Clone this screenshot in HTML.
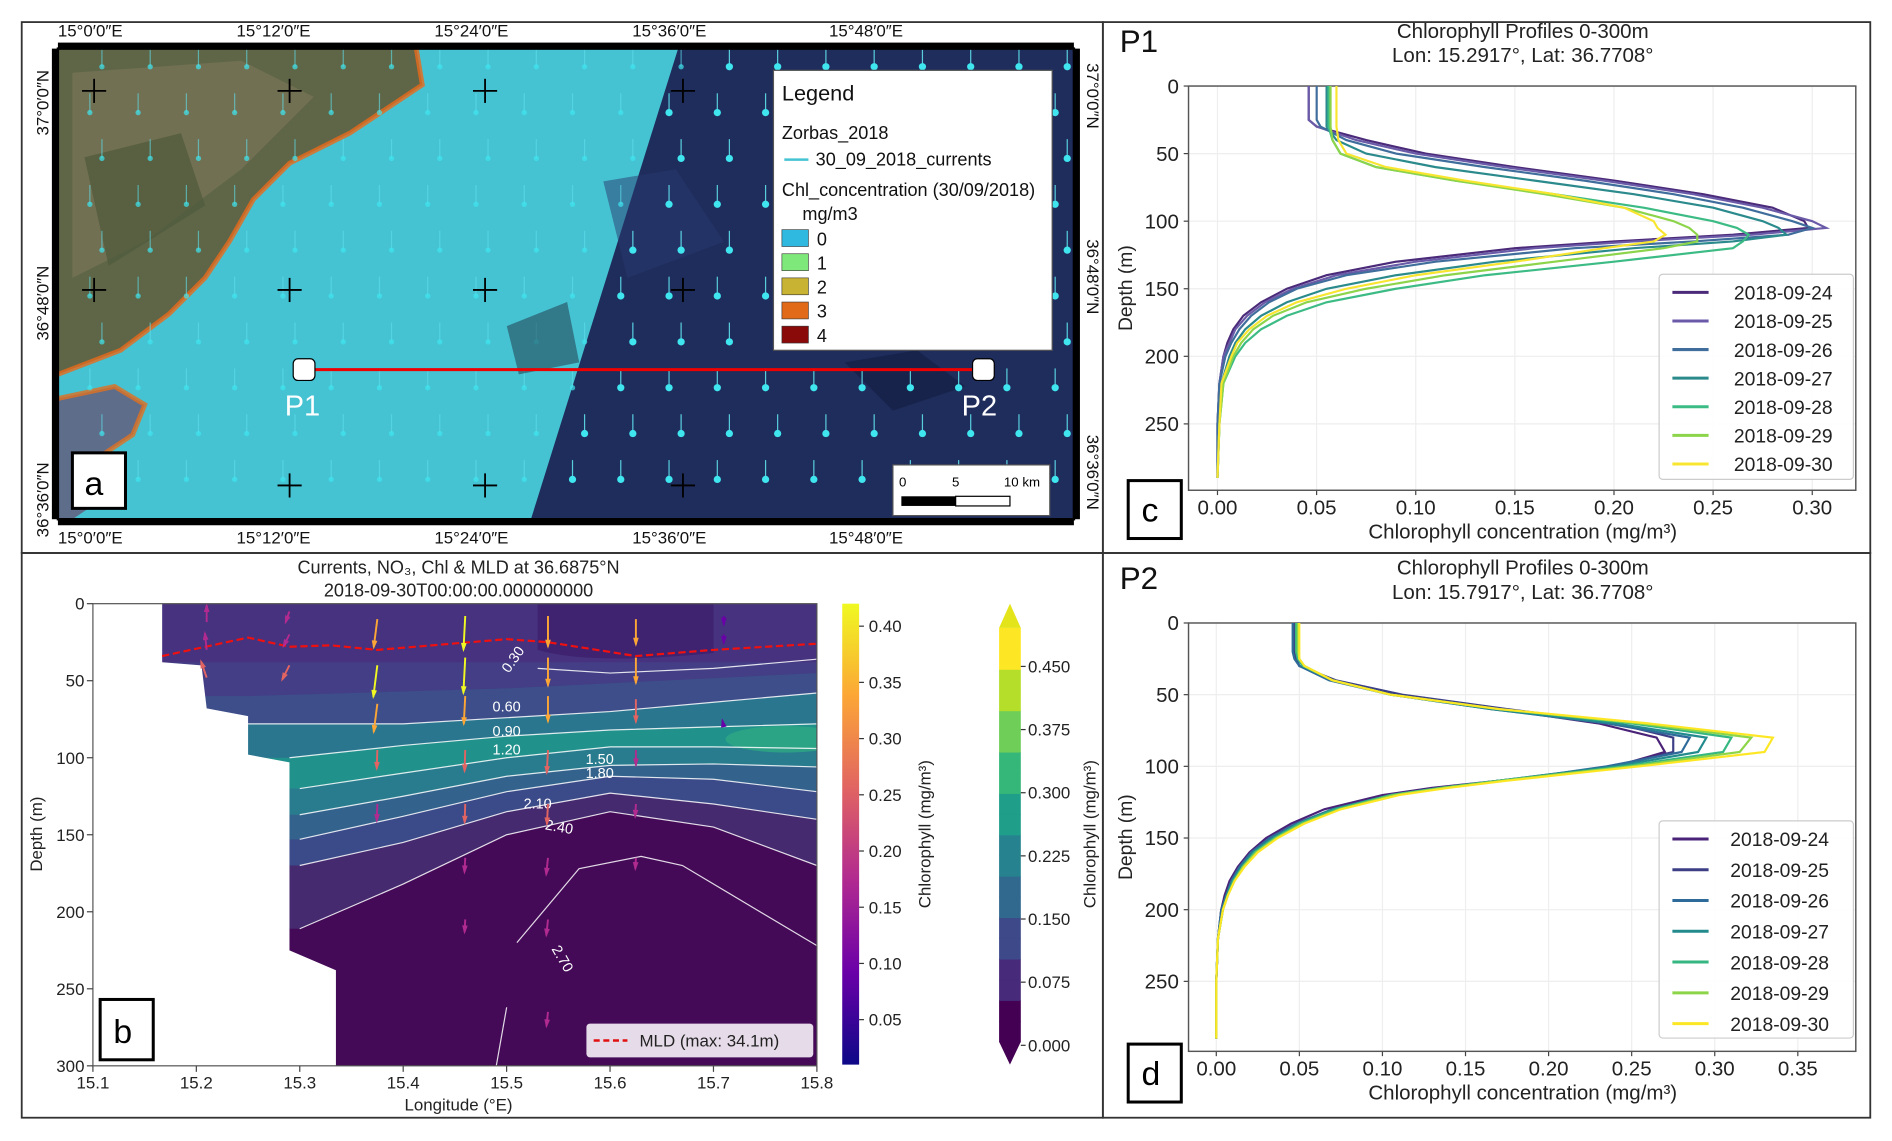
<!DOCTYPE html>
<html><head><meta charset="utf-8"><style>
html,body{margin:0;padding:0;background:#fff;}
svg{display:block;font-family:"Liberation Sans",sans-serif;}
</style></head><body>
<svg id="root" width="1892" height="1141" viewBox="0 0 1568 945" xmlns="http://www.w3.org/2000/svg">
<rect x="0" y="0" width="1568" height="945" fill="#fff"/>
<rect x="18" y="18" width="896" height="440" fill="none" stroke="#333" stroke-width="1.5"/>
<rect x="18" y="458" width="896" height="468" fill="none" stroke="#333" stroke-width="1.5"/>
<rect x="914" y="18" width="636" height="440" fill="none" stroke="#333" stroke-width="1.5"/>
<rect x="914" y="458" width="636" height="468" fill="none" stroke="#333" stroke-width="1.5"/>

<g>
<clipPath id="mapclip"><rect x="48" y="40" width="842" height="390"/></clipPath>
<clipPath id="bclip"><rect x="77" y="500" width="600" height="383"/></clipPath>
<g clip-path="url(#mapclip)">
<rect x="48" y="40" width="842" height="390" fill="#45c3d3"/>
<polygon points="562,40 890,40 890,430 440,430" fill="#1f2d5c"/>
<polygon points="700,300 760,290 800,320 740,340" fill="#131d40" opacity="0.6"/>
<polygon points="500,150 560,140 600,200 520,230" fill="#2a3a70" opacity="0.5"/>
<polygon points="48,40 345,40 350,70 320,90 290,110 240,135 210,165 190,200 170,230 140,260 100,290 48,310" fill="#5f6648"/>
<polygon points="60,60 200,50 260,80 200,140 120,200 60,230" fill="#7a7558" opacity="0.7"/>
<polygon points="70,130 150,110 170,170 90,220" fill="#4e5a3c" opacity="0.7"/>
<polyline points="345,40 350,70 320,90 290,110 240,135 210,165 190,200 170,230 140,260 100,290 48,310" fill="none" stroke="#e86a1a" stroke-width="4" opacity="0.8"/>
<polygon points="48,330 95,320 120,335 110,360 80,380 90,410 60,430 48,430" fill="#5e6d8a"/>
<polyline points="48,330 95,320 120,335 110,360 80,380" fill="none" stroke="#e07020" stroke-width="4" opacity="0.8"/>
<g id="vectors"></g>
<polygon points="420,270 470,250 480,300 430,310" fill="#203040" opacity="0.5"/>
</g>
<rect x="48" y="40" width="842" height="390" fill="none" stroke="#000" stroke-width="2"/>
<rect x="48" y="35" width="842" height="5" fill="#000"/><rect x="48" y="430" width="842" height="5" fill="#000"/>
<rect x="43" y="40" width="5" height="390" fill="#000"/><rect x="890" y="40" width="5" height="390" fill="#000"/>
<g id="crosses" stroke="#000" stroke-width="1.5"></g>
<g font-size="14" fill="#111">
<text x="48" y="30">15°0′0″E</text><text x="196" y="30">15°12′0″E</text><text x="360" y="30">15°24′0″E</text><text x="524" y="30">15°36′0″E</text><text x="687" y="30">15°48′0″E</text>
<text x="48" y="450">15°0′0″E</text><text x="196" y="450">15°12′0″E</text><text x="360" y="450">15°24′0″E</text><text x="524" y="450">15°36′0″E</text><text x="687" y="450">15°48′0″E</text>
<text transform="translate(40,112) rotate(-90)">37°0′0″N</text><text transform="translate(40,282) rotate(-90)">36°48′0″N</text><text transform="translate(40,445) rotate(-90)">36°36′0″N</text>
<text transform="translate(901,52) rotate(90)">37°0′0″N</text><text transform="translate(901,198) rotate(90)">36°48′0″N</text><text transform="translate(901,360) rotate(90)">36°36′0″N</text>
</g>
<line x1="252" y1="306" x2="815" y2="306" stroke="#e00" stroke-width="2.5"/>
<rect x="243" y="297" width="18" height="18" rx="4" fill="#fff" stroke="#000"/>
<rect x="806" y="297" width="18" height="18" rx="4" fill="#fff" stroke="#000"/>
<text x="236" y="344" font-size="24" fill="#fff">P1</text><text x="797" y="344" font-size="24" fill="#fff">P2</text>
<g>
<rect x="641" y="58" width="231" height="232" fill="#fff" stroke="#555"/>
<g font-size="15" fill="#111">
<text x="648" y="83" font-size="18">Legend</text>
<text x="648" y="115">Zorbas_2018</text>
<line x1="650" y1="132" x2="670" y2="132" stroke="#45c3d3" stroke-width="2"/><text x="676" y="137">30_09_2018_currents</text>
<text x="648" y="162">Chl_concentration (30/09/2018)</text>
<text x="665" y="182">mg/m3</text>
<rect x="648" y="190" width="22" height="14" fill="#2fb8e0" stroke="#333" stroke-width=".5"/><text x="677" y="203">0</text>
<rect x="648" y="210" width="22" height="14" fill="#7fe87a" stroke="#333" stroke-width=".5"/><text x="677" y="223">1</text>
<rect x="648" y="230" width="22" height="14" fill="#c8b432" stroke="#333" stroke-width=".5"/><text x="677" y="243">2</text>
<rect x="648" y="250" width="22" height="14" fill="#e06a18" stroke="#333" stroke-width=".5"/><text x="677" y="263">3</text>
<rect x="648" y="270" width="22" height="14" fill="#8a0a0a" stroke="#333" stroke-width=".5"/><text x="677" y="283">4</text>
</g></g>
<g>
<rect x="740" y="385" width="130" height="42" fill="#fff" stroke="#555"/>
<text x="745" y="403" font-size="11">0</text><text x="789" y="403" font-size="11">5</text><text x="832" y="403" font-size="11">10 km</text>
<rect x="747" y="411" width="45" height="8" fill="#000"/><rect x="792" y="411" width="45" height="8" fill="#fff" stroke="#000"/>
</g>
<rect x="60" y="375" width="44" height="46" fill="#fff" stroke="#000" stroke-width="2.5"/>
<text x="70" y="410" font-size="28">a</text>
</g>

<g id="pb"></g>
<g id="pc"></g>
<g id="pd"></g>
</svg>
<script>
const NS='http://www.w3.org/2000/svg';
function el(tag,attrs,parent,text){const e=document.createElementNS(NS,tag);for(const k in attrs)e.setAttribute(k,attrs[k]);if(text!==undefined)e.textContent=text;parent.appendChild(e);return e;}

const depths=[0,10,20,25,30,40,50,60,70,80,90,100,105,110,115,120,130,140,150,160,170,180,190,200,220,250,290];
const dates=['2018-09-24','2018-09-25','2018-09-26','2018-09-27','2018-09-28','2018-09-29','2018-09-30'];
const p1Colors=['#4b2a79','#6a5aa8','#3f6d9c','#2b8a8c','#3cbb85','#8cd44a','#f8e530'];
const p2Colors=['#4a2378','#3d3f86','#2f6b9a','#238a8d','#36b781','#8dd548','#fde725'];
const p1_24=[.046,.046,.046,.046,.05,.075,.105,.15,.20,.245,.28,.296,.298,.26,.20,.15,.09,.055,.035,.022,.013,.008,.005,.003,.001,0,0];
const p1_25=[.046,.046,.046,.046,.05,.07,.10,.145,.195,.24,.275,.30,.307,.27,.21,.16,.10,.06,.038,.024,.015,.009,.006,.003,.001,0,0];
const p1_26=[.05,.05,.05,.05,.052,.065,.09,.135,.185,.23,.265,.29,.30,.288,.24,.18,.11,.065,.04,.026,.017,.011,.007,.004,.001,0,0];
const p1_27=[.055,.055,.055,.055,.055,.06,.075,.11,.16,.21,.25,.275,.283,.287,.26,.21,.14,.09,.055,.035,.022,.014,.009,.006,.002,.001,0];
const p1_28=[.056,.056,.056,.056,.056,.058,.062,.08,.12,.17,.215,.25,.262,.268,.265,.26,.2,.135,.09,.055,.035,.022,.014,.009,.003,.001,0];
const p1_29=[.057,.057,.057,.057,.057,.058,.062,.08,.12,.165,.205,.23,.238,.242,.242,.225,.17,.115,.075,.045,.028,.018,.012,.008,.003,.001,0];
const p1_30=[.06,.06,.06,.06,.06,.061,.065,.085,.125,.17,.205,.22,.222,.226,.22,.195,.15,.1,.065,.04,.025,.016,.01,.007,.002,.001,0];
const p2_24=[.047,.047,.047,.048,.05,.07,.11,.17,.23,.265,.27,.24,.21,.17,.13,.10,.065,.045,.03,.02,.013,.008,.005,.003,.001,0,0];
const p2_25=[.047,.047,.047,.048,.05,.072,.112,.175,.24,.275,.275,.24,.21,.17,.135,.105,.07,.048,.032,.021,.014,.009,.006,.003,.001,0,0];
const p2_26=[.046,.046,.046,.047,.05,.068,.105,.165,.235,.285,.28,.235,.205,.17,.135,.105,.07,.048,.032,.021,.014,.009,.006,.003,.001,0,0];
const p2_27=[.048,.048,.048,.049,.052,.07,.105,.165,.24,.295,.29,.24,.205,.17,.135,.105,.07,.05,.034,.022,.015,.01,.006,.004,.001,0,0];
const p2_28=[.048,.048,.048,.049,.052,.07,.105,.17,.25,.31,.305,.245,.21,.17,.135,.105,.072,.05,.035,.023,.016,.01,.007,.004,.001,0,0];
const p2_29=[.049,.049,.049,.05,.053,.07,.105,.17,.255,.322,.315,.25,.21,.172,.137,.107,.074,.052,.036,.024,.016,.011,.007,.004,.001,0,0];
const p2_30=[.05,.05,.05,.05,.053,.07,.105,.17,.26,.335,.33,.255,.215,.175,.14,.11,.075,.053,.037,.025,.017,.011,.007,.004,.001,0,0];
const p1Series=[p1_24,p1_25,p1_26,p1_27,p1_28,p1_29,p1_30];
const p2Series=[p2_24,p2_25,p2_26,p2_27,p2_28,p2_29,p2_30];
const p1XTicks=[0,0.05,0.10,0.15,0.20,0.25,0.30];
const p2XTicks=[0,0.05,0.10,0.15,0.20,0.25,0.30,0.35];
const yTicks=[0,50,100,150,200,250];

function profile(g,o){
  const L=985,R=1538,T=o.top,B=o.bottom;
  const sx=v=>o.x0+v*o.kx, sy=d=>T+d*o.ky;
  el('text',{x:1262,y:T-40,'font-size':17,'text-anchor':'middle',fill:'#222'},g,'Chlorophyll Profiles 0-300m');
  el('text',{x:1262,y:T-20,'font-size':17,'text-anchor':'middle',fill:'#222'},g,o.sub);
  el('text',{x:928,y:T-28,'font-size':26,fill:'#111'},g,o.name);
  for(const t of o.xt){const x=sx(t);
    const gl=el('line',{x1:x,y1:T,x2:x,y2:B,stroke:'#eee'},g);
    el('line',{x1:x,y1:B,x2:x,y2:B+4,stroke:'#444'},g);
    const tl=el('text',{x:x,y:B+20,'font-size':17,'text-anchor':'middle',fill:'#222'},g,t.toFixed(2));}
  for(const t of yTicks){const y=sy(t);
    el('line',{x1:L,y1:y,x2:R,y2:y,stroke:'#eee'},g);
    el('line',{x1:L-4,y1:y,x2:L,y2:y,stroke:'#444'},g);
    const tl=el('text',{x:L-8,y:y+6,'font-size':17,'text-anchor':'end',fill:'#222'},g,t);}
  el('rect',{x:L,y:T,width:R-L,height:B-T,fill:'none',stroke:'#555','stroke-width':1.2},g);
  const yl=el('text',{transform:`translate(938,${(T+B)/2}) rotate(-90)`,'font-size':16,'text-anchor':'middle',fill:'#222'},g,'Depth (m)');
  const xl=el('text',{x:1262,y:B+40,'font-size':17,'text-anchor':'middle',fill:'#222'},g,'Chlorophyll concentration (mg/m³)');
  o.series.forEach((s,i)=>{
    const pts=s.map((v,j)=>sx(v).toFixed(1)+','+sy(depths[j]).toFixed(1)).join(' ');
    const pl=el('polyline',{points:pts,fill:'none',stroke:o.colors[i],'stroke-width':1.8},g);
    
    
  });
  const lg=el('g',{},g);
  el('rect',{x:1375,y:o.ly,width:161,height:o.lh,fill:'#fff','fill-opacity':0.9,stroke:'#ccc',rx:3},lg);
  dates.forEach((d,i)=>{const y=o.ly+15+i*o.lstep;
    el('line',{x1:1386,y1:y,x2:1416,y2:y,stroke:o.colors[i],'stroke-width':2.5},lg);
    const t=el('text',{x:o.lx,y:y+6,'font-size':16,fill:'#222'},lg,d);});
  el('rect',{x:935,y:o.boxY,width:44,height:48,fill:'#fff',stroke:'#000','stroke-width':2.5},g);
  el('text',{x:946,y:o.boxY+34,'font-size':28},g,o.letter);
}
profile(document.getElementById('pc'),{top:71,bottom:406,x0:1009,kx:1643,ky:1.12,xt:p1XTicks,series:p1Series,colors:p1Colors,sub:'Lon: 15.2917°, Lat: 36.7708°',name:'P1',ly:227,lh:170,lstep:23.7,lx:1437,boxY:398,letter:'c'});
profile(document.getElementById('pd'),{top:516,bottom:871,x0:1008,kx:1377,ky:1.188,xt:p2XTicks,series:p2Series,colors:p2Colors,sub:'Lon: 15.7917°, Lat: 36.7708°',name:'P2',ly:680,lh:180,lstep:25.5,lx:1434,boxY:865,letter:'d'});

const lonTicks=[15.1,15.2,15.3,15.4,15.5,15.6,15.7,15.8];
const depthTicks=[0,50,100,150,200,250,300];
const c030=[[15.53,42],[15.6,45],[15.7,42],[15.8,36]];
const c060=[[15.25,78],[15.4,78],[15.5,74],[15.6,70],[15.7,64],[15.8,58]];
const c090=[[15.29,100],[15.4,92],[15.5,86],[15.6,82],[15.7,80],[15.8,78]];
const c120=[[15.3,120],[15.4,110],[15.5,100],[15.6,93],[15.7,93],[15.8,94]];
const c150=[[15.3,137],[15.4,125],[15.5,112],[15.6,105],[15.7,104],[15.8,106]];
const c180=[[15.3,153],[15.4,138],[15.5,122],[15.6,112],[15.7,114],[15.8,122]];
const c210=[[15.3,170],[15.4,155],[15.5,135],[15.6,123],[15.7,130],[15.8,140]];
const c240=[[15.3,211],[15.4,182],[15.5,150],[15.6,135],[15.7,145],[15.8,170]];
const c270=[[15.51,220],[15.57,172],[15.63,164],[15.67,170],[15.8,222]];
const c270b=[[15.49,300],[15.5,262]];
const bathy=[[15.1,0],[15.167,0],[15.167,38],[15.205,40],[15.21,68],[15.25,73],[15.25,98],[15.29,103],[15.29,225],[15.335,238],[15.335,300],[15.1,300]];
const mld=[[15.167,34],[15.25,22],[15.29,28],[15.33,27],[15.375,30],[15.5,23],[15.54,25],[15.625,34],[15.7,30],[15.8,26]];
const arrowLon=[15.21,15.21,15.21,15.29,15.29,15.29,15.375,15.375,15.375,15.375,15.375,15.46,15.46,15.46,15.46,15.46,15.46,15.46,15.54,15.54,15.54,15.54,15.54,15.54,15.54,15.54,15.625,15.625,15.625,15.625,15.625,15.625,15.71,15.71,15.71];
const arrowDep=[12,30,48,5,20,40,10,40,65,95,130,8,35,60,95,130,165,205,8,35,60,95,130,165,205,265,10,35,62,95,130,165,8,20,80];
const arrowSpd=[0.2,0.2,0.22,0.15,0.18,0.22,0.34,0.38,0.34,0.22,0.2,0.4,0.42,0.33,0.25,0.22,0.17,0.15,0.36,0.33,0.3,0.27,0.24,0.2,0.19,0.17,0.3,0.3,0.27,0.18,0.15,0.13,0.1,0.1,0.08];
const arrowDir=[180,170,150,30,40,40,12,12,12,3,3,5,5,5,3,3,5,5,0,0,0,5,5,10,10,10,0,0,0,0,5,5,0,0,160];
const cbTicks1=[0.05,0.10,0.15,0.20,0.25,0.30,0.35,0.40];
const cbTicks2=[0.000,0.075,0.150,0.225,0.300,0.375,0.450];

(function(){
 const g0=document.getElementById('pb');
 const X=l=>77+(l-15.1)/0.7*600, Y=d=>500+d/300*383;
 const path=a=>a.map((p,i)=>(i?'L':'M')+X(p[0]).toFixed(1)+','+Y(p[1]).toFixed(1)).join('');
 el('text',{x:380,y:475,'font-size':15,'text-anchor':'middle',fill:'#222'},g0,'Currents, NO₃, Chl & MLD at 36.6875°N');
 el('text',{x:380,y:494,'font-size':15,'text-anchor':'middle',fill:'#222'},g0,'2018-09-30T00:00:00.000000000');
 const g=el('g',{'clip-path':'url(#bclip)'},g0);
 el('rect',{x:77,y:500,width:600,height:383,fill:'#440a58'},g);
 function band(c,col){el('path',{d:path([[15.1,0],[15.1,c[0][1]]].concat(c).concat([[15.8,0]]))+'Z',fill:col},g);}
 band(c240,'#452a6f');
 band(c210,'#3b4a89');
 band(c180,'#33638d');
 band(c150,'#297c8e');
 band(c120,'#21918c');
 el('ellipse',{cx:X(15.77),cy:Y(88),rx:50,ry:11,fill:'#2ea883',opacity:0.8},g);
 band(c090,'#2a768e');
 band(c060,'#3d4e8a');
 band([[15.25,60],[15.5,55],[15.8,45]],'#433e85');
 el('rect',{x:X(15.1),y:500,width:600,height:Y(38)-500,fill:'#46327e'},g);
 el('path',{d:'M'+X(15.53)+','+Y(0)+'L'+X(15.53)+','+Y(30)+'Q'+X(15.58)+','+Y(40)+' '+X(15.7)+','+Y(32)+'L'+X(15.7)+','+Y(0)+'Z',fill:'#3f2370'},g);
 const m=el('path',{d:path(bathy)+'Z',fill:'#fff'},g);
 [c030,c060,c090,c120,c150,c180,c210,c240,c270,c270b].forEach(c=>{const p=el('path',{d:path(c),fill:'none',stroke:'#fff','stroke-width':1,opacity:0.85},g);});
 const labs=[[15.51,38,'0.30',-55],[15.5,70,'0.60',0],[15.5,86,'0.90',0],[15.5,98,'1.20',0],[15.59,104,'1.50',0],[15.59,113,'1.80',0],[15.53,133,'2.10',0],[15.55,148,'2.40',10],[15.55,232,'2.70',60]];
 labs.forEach(l=>{el('text',{transform:`translate(${X(l[0])},${Y(l[1])}) rotate(${l[3]})`,'font-size':12,'text-anchor':'middle',fill:'#fff'},g,l[2]);});
 const md=el('path',{d:path(mld),fill:'none',stroke:'#f01010','stroke-width':1.8,'stroke-dasharray':'6,3'},g);
 const plasma=['#0d0887','#6a00a8','#b12a90','#e16462','#fca636','#f0f921'];
 function pc(v){const t=Math.min(1,Math.max(0,v/0.42))*(plasma.length-1);return plasma[Math.round(t)];}
 for(let i=0;i<arrowLon.length;i++){
   const x=X(arrowLon[i]),y=Y(arrowDep[i]),len=arrowSpd[i]*70,a=arrowDir[i]*Math.PI/180;
   const dx=-Math.sin(a)*len*0.6,dy=Math.cos(a)*len;const col=pc(arrowSpd[i]);
   const x2=x+dx,y2=y+dy;const ang=Math.atan2(dy,dx);
   const ar=el('g',{},g);
   el('line',{x1:x,y1:y,x2:x2,y2:y2,stroke:col,'stroke-width':1.6},ar);
   const h=6;el('polygon',{points:`${x2+Math.cos(ang)*2},${y2+Math.sin(ang)*2} ${x2-Math.cos(ang-0.4)*h},${y2-Math.sin(ang-0.4)*h} ${x2-Math.cos(ang+0.4)*h},${y2-Math.sin(ang+0.4)*h}`,fill:col},ar);
 }
 el('rect',{x:77,y:500,width:600,height:383,fill:'none',stroke:'#555'},g0);
 lonTicks.forEach(t=>{const x=X(t);el('line',{x1:x,y1:883,x2:x,y2:888,stroke:'#444'},g0);const tl=el('text',{x:x,y:902,'font-size':14,'text-anchor':'middle',fill:'#222'},g0,t.toFixed(1));});
 depthTicks.forEach(t=>{const y=Y(t);el('line',{x1:72,y1:y,x2:77,y2:y,stroke:'#444'},g0);const tl=el('text',{x:70,y:y+5,'font-size':14,'text-anchor':'end',fill:'#222'},g0,t);});
 el('text',{x:380,y:920,'font-size':14,'text-anchor':'middle',fill:'#222'},g0,'Longitude (°E)');
 el('text',{transform:'translate(35,691) rotate(-90)','font-size':14,'text-anchor':'middle',fill:'#222'},g0,'Depth (m)');
 const lg=el('g',{},g0);
 el('rect',{x:486,y:848,width:188,height:28,fill:'#e6dbe8',rx:3},lg);
 el('line',{x1:492,y1:862,x2:520,y2:862,stroke:'#e01010','stroke-width':2,'stroke-dasharray':'5,3'},lg);
 el('text',{x:530,y:867,'font-size':14,fill:'#222'},lg,'MLD (max: 34.1m)');
 el('rect',{x:83,y:828,width:44,height:50,fill:'#fff',stroke:'#000','stroke-width':2.5},g0);
 el('text',{x:94,y:864,'font-size':28},g0,'b');
 const defs=el('defs',{},g0);
 const lg1=el('linearGradient',{id:'gp',x1:0,y1:1,x2:0,y2:0},defs);
 plasma.forEach((c,i)=>el('stop',{offset:i/(plasma.length-1),'stop-color':c},lg1));
 const cb1=el('rect',{x:698,y:500,width:14,height:382,fill:'url(#gp)'},g0);
 const c1=v=>882-(v-0.01)/0.41*382;
 cbTicks1.forEach(t=>{const y=c1(t);el('line',{x1:712,y1:y,x2:716,y2:y,stroke:'#333'},g0);el('text',{x:720,y:y+5,'font-size':14,fill:'#222'},g0,t.toFixed(2));});
 el('text',{transform:'translate(771,691) rotate(-90)','font-size':14,'text-anchor':'middle',fill:'#222'},g0,'Chlorophyll (mg/m³)');
 const vir=['#440154','#472a7a','#3e4989','#31688e','#26828e','#1f9e89','#35b779','#6ece58','#b5de2b','#fde725'];
 const cb2=el('g',{},g0);
 const n=20,top=520,bot=863;
 for(let i=0;i<n;i++){const t=i/(n-1);const c=vir[Math.round(t*(vir.length-1))];el('rect',{x:828,y:bot-(i+1)*(bot-top)/n,width:18,height:(bot-top)/n+0.5,fill:c},cb2);}
 el('polygon',{points:`828,${top} 846,${top} 837,500`,fill:'#e3e419'},cb2);
 el('polygon',{points:`828,${bot} 846,${bot} 837,882`,fill:'#440154'},cb2);
 const c2=v=>866-v/0.45*314;
 cbTicks2.forEach(t=>{const y=c2(t);el('line',{x1:846,y1:y,x2:850,y2:y,stroke:'#333'},g0);el('text',{x:852,y:y+5,'font-size':14,fill:'#222'},g0,t.toFixed(3));});
 el('text',{transform:'translate(908,691) rotate(-90)','font-size':14,'text-anchor':'middle',fill:'#222'},g0,'Chlorophyll (mg/m³)');
})();

(function(){
 const v=document.getElementById('vectors');
 for(let x=70;x<890;x+=40){for(let y=55;y<430;y+=38){
   const dark=(y-40)*(440-562)/390+562< x;
   const xx=x+((y/38)%2)*10;
   el('line',{x1:xx,y1:y-16,x2:xx,y2:y,stroke:'#5fe0ec','stroke-width':1,opacity:dark?0.9:0.6},v);
   el('circle',{cx:xx,cy:y,r:dark?3:2.2,fill:'#3fe6f0',opacity:dark?1:0.7},v);
 }}
 const c=document.getElementById('crosses');
 [78,240,402,566].forEach(x=>[75,240,402].forEach(y=>{el('line',{x1:x-10,y1:y,x2:x+10,y2:y},c);el('line',{x1:x,y1:y-10,x2:x,y2:y+10},c);}));
})();
</script>
</body></html>
